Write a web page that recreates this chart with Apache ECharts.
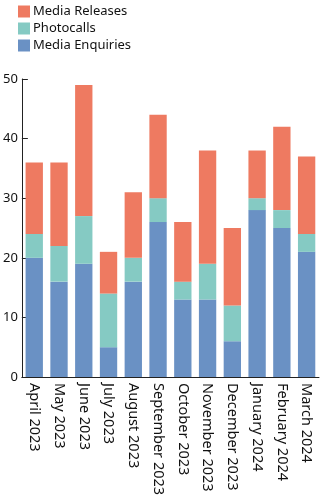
<!DOCTYPE html>
<html>
<head>
<meta charset="utf-8">
<script src="https://cdn.jsdelivr.net/npm/echarts@6/dist/echarts.min.js"></script>
<style>
html,body{margin:0;padding:0;background:#fff;}
#chart{width:327px;height:499px;}
</style>
</head>
<body>
<div id="chart"></div>
<script>
const categories = ["April 2023","May 2023","June 2023","July 2023","August 2023","September 2023","October 2023","November 2023","December 2023","January 2024","February 2024","March 2024"];
const mediaEnquiries = [20,16,19,5,16,26,13,13,6,28,25,21];
const photocalls = [4,6,8,9,4,4,3,6,6,2,3,3];
const mediaReleases = [12,14,22,7,11,14,10,19,13,8,14,13];
const yTicks = [0,10,20,30,40,50];

const FONT = "Noto Sans";
const chart = echarts.init(document.getElementById('chart'), null, {renderer:'canvas'});
chart.setOption({
  animation:false,
  backgroundColor:'#ffffff',
  textStyle:{fontFamily:FONT},
  legend:{
    orient:'vertical', left:13, top:0,
    itemWidth:12, itemHeight:12, itemGap:4,
    icon:'rect',
    data:['Media Releases','Photocalls','Media Enquiries'],
    textStyle:{fontFamily:FONT,fontSize:13,lineHeight:13,color:'#111',padding:[0,0,0,-2]}
  },
  grid:{left:19,right:8,top:79,bottom:122,containLabel:false},
  xAxis:{
    type:'category', data:categories,
    boundaryGap:true,
    axisLine:{lineStyle:{color:'#222',width:1}},
    axisTick:{inside:true,length:5,lineStyle:{color:'#222'}},
    axisLabel:{rotate:-90,interval:0,fontSize:14.5,color:'#111',margin:6,fontFamily:FONT}
  },
  yAxis:{
    type:'value', min:yTicks[0], max:yTicks[yTicks.length-1], interval:10,
    splitLine:{show:false},
    axisLine:{show:true,lineStyle:{color:'#222',width:1}},
    axisTick:{show:true,inside:true,length:6,lineStyle:{color:'#222'}},
    axisLabel:{fontSize:13,color:'#111',margin:4,fontFamily:FONT}
  },
  series:[
    {name:'Media Enquiries',type:'bar',stack:'a',data:mediaEnquiries,barCategoryGap:'30%',itemStyle:{color:'#6a91c4'}},
    {name:'Photocalls',type:'bar',stack:'a',data:photocalls,itemStyle:{color:'#85cac3'}},
    {name:'Media Releases',type:'bar',stack:'a',data:mediaReleases,itemStyle:{color:'#ee7a61'}}
  ]
});
</script>
</body>
</html>
